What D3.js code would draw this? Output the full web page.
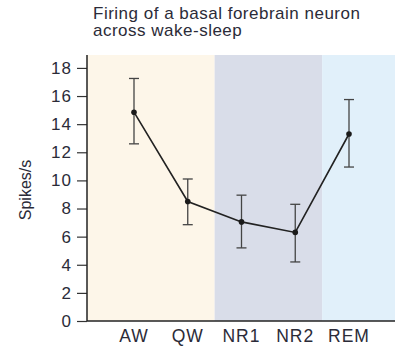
<!DOCTYPE html>
<html>
<head>
<meta charset="utf-8">
<script src="https://cdn.jsdelivr.net/npm/d3@7"></script>
<style>
  html, body { margin: 0; padding: 0; background: #ffffff; }
  svg { display: block; }
  text { font-family: "Liberation Sans", Arial, Helvetica, sans-serif; }
</style>
</head>
<body>
<svg id="chart" width="395" height="346"></svg>
<script>
// Mean firing rate per state with upper/lower error limits (spikes/s)
const stages = ["AW", "QW", "NR1", "NR2", "REM"];
const rates = [14.85, 8.5, 7.05, 6.3, 13.3];
const errHigh = [17.25, 10.1, 8.95, 8.3, 15.75];
const errLow = [12.6, 6.85, 5.2, 4.2, 10.95];
const yTicks = [0, 2, 4, 6, 8, 10, 12, 14, 16, 18];

// Shaded state groups: wake, non-REM, REM
const groups = [
  { from: null, to: "QW", color: "#fdf6e9" },
  { from: "QW", to: "NR2", color: "#d9dde9" },
  { from: "NR2", to: null, color: "#e1f0fa" }
];

const svg = d3.select("#chart");
const plotLeft = 87, plotRight = 395, plotTop = 55, plotBottom = 321;
const textColor = "#2b2b38";

const x = d3.scalePoint().domain(stages).range([134, 349]);
const y = d3.scaleLinear().domain([0, 18]).range([plotBottom, plotBottom - 18 * 14.06]);

function edge(name, side) {
  if (name === null) return side === "start" ? plotLeft : plotRight;
  const i = stages.indexOf(name);
  return (x(stages[i]) + x(stages[i + 1])) / 2;
}

svg.append("g").selectAll("rect")
  .data(groups)
  .join("rect")
  .attr("x", d => edge(d.from, "start"))
  .attr("y", plotTop)
  .attr("width", d => edge(d.to, "end") - edge(d.from, "start"))
  .attr("height", plotBottom - plotTop)
  .attr("fill", d => d.color);

// Title
const title = svg.append("text")
  .attr("x", 93)
  .attr("y", 19)
  .attr("font-size", 17)
  .attr("letter-spacing", 0.5)
  .attr("fill", textColor);
title.append("tspan").attr("x", 93).attr("dy", 0).text("Firing of a basal forebrain neuron");
title.append("tspan").attr("x", 93).attr("dy", 16.5).text("across wake-sleep");

// Y axis
const yAxis = svg.append("g")
  .attr("transform", `translate(${plotLeft},0)`)
  .call(d3.axisLeft(y).tickValues(yTicks).tickSize(10).tickPadding(5).tickSizeOuter(0));
yAxis.select(".domain").remove();
yAxis.selectAll(".tick line").attr("stroke", "#333").attr("stroke-width", 1.2);
yAxis.selectAll(".tick text")
  .attr("font-size", 17)
  .attr("letter-spacing", 1)
  .attr("fill", textColor)
  .style("font-family", "Liberation Sans, Arial, sans-serif");

svg.append("line")
  .attr("x1", plotLeft).attr("x2", plotLeft)
  .attr("y1", plotTop).attr("y2", plotBottom)
  .attr("stroke", "#222").attr("stroke-width", 1.5);

svg.append("line")
  .attr("x1", plotLeft).attr("x2", plotRight)
  .attr("y1", plotBottom).attr("y2", plotBottom)
  .attr("stroke", "#222").attr("stroke-width", 1.5);

// X category labels
svg.append("g").selectAll("text")
  .data(stages)
  .join("text")
  .attr("x", d => x(d))
  .attr("y", 342)
  .attr("text-anchor", "middle")
  .attr("font-size", 17.5)
  .attr("letter-spacing", 1)
  .attr("fill", textColor)
  .text(d => d);

// Y axis title
svg.append("text")
  .attr("transform", `translate(31,190) rotate(-90)`)
  .attr("text-anchor", "middle")
  .attr("font-size", 16)
  .attr("fill", textColor)
  .text("Spikes/s");

// Error bars
const eb = svg.append("g").attr("stroke", "#444").attr("stroke-width", 1.3);
stages.forEach((s, i) => {
  eb.append("line").attr("x1", x(s)).attr("x2", x(s)).attr("y1", y(errHigh[i])).attr("y2", y(errLow[i]));
  eb.append("line").attr("x1", x(s) - 5).attr("x2", x(s) + 5).attr("y1", y(errHigh[i])).attr("y2", y(errHigh[i]));
  eb.append("line").attr("x1", x(s) - 5).attr("x2", x(s) + 5).attr("y1", y(errLow[i])).attr("y2", y(errLow[i]));
});

// Mean line and points
const pts = stages.map((s, i) => [x(s), y(rates[i])]);
svg.append("path")
  .attr("d", d3.line()(pts))
  .attr("fill", "none")
  .attr("stroke", "#222")
  .attr("stroke-width", 1.6);

svg.append("g").selectAll("circle")
  .data(pts)
  .join("circle")
  .attr("cx", d => d[0])
  .attr("cy", d => d[1])
  .attr("r", 2.8)
  .attr("fill", "#1a1a1a");
</script>
</body>
</html>
